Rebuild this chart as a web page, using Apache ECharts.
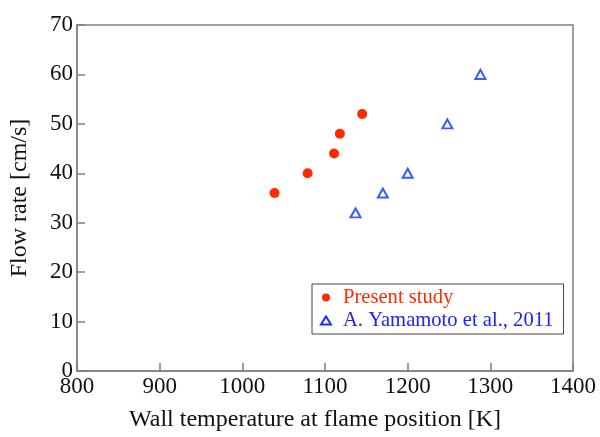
<!DOCTYPE html>
<html><head><meta charset="utf-8">
<script src="https://cdn.jsdelivr.net/npm/echarts@6/dist/echarts.min.js"></script>
<style>html,body{margin:0;padding:0;background:#fff}#c{width:600px;height:437px}</style>
</head><body><div id="c"></div>
<script>
const presentX = [1039, 1079, 1111, 1118, 1145];
const presentY = [36, 40, 44, 48, 52];
const yamaX = [1137, 1170, 1200, 1248, 1288];
const yamaY = [32, 36, 40, 50, 60];
const xTicks = [800, 900, 1000, 1100, 1200, 1300, 1400];
const yTicks = [0, 10, 20, 30, 40, 50, 60, 70];
const seriesNames = ['Present study', 'A. Yamamoto et al., 2011'];

const font = 'Liberation Serif';
const red = '#ff2a00';
const blue = '#3a5cff';
const blueText = '#2121ff';
const chart = echarts.init(document.getElementById('c'), null, {renderer: 'canvas'});
chart.setOption({
  animation: false,
  grid: {left: 76, right: 27, top: 25, bottom: 64, show: true, borderColor: '#808080', borderWidth: 1.5, backgroundColor: 'transparent'},
  xAxis: {
    type: 'value', min: xTicks[0], max: xTicks[xTicks.length-1], interval: 100,
    name: 'Wall temperature at flame position [K]', nameLocation: 'middle', nameGap: 37,
    nameTextStyle: {fontFamily: font, fontSize: 24, color: '#111', padding: [0, 20, 0, 0]},
    axisLine: {lineStyle: {color: '#808080', width: 1.5}},
    axisTick: {inside: true, length: 8, lineStyle: {color: '#808080', width: 1.5}},
    axisLabel: {fontFamily: font, fontSize: 23, color: '#111', margin: 4, formatter: v => String(v)},
    splitLine: {show: false}
  },
  yAxis: {
    type: 'value', min: yTicks[0], max: yTicks[yTicks.length-1], interval: 10,
    name: 'Flow rate [cm/s]', nameLocation: 'middle', nameGap: 45,
    nameTextStyle: {fontFamily: font, fontSize: 24, color: '#111'},
    axisLine: {lineStyle: {color: '#808080', width: 1.5}},
    axisTick: {inside: true, length: 8, lineStyle: {color: '#808080', width: 1.5}},
    axisLabel: {fontFamily: font, fontSize: 23, color: '#111', margin: 4, formatter: v => String(v)},
    splitLine: {show: false}
  },
  legend: {
    left: 312, top: 284, orient: 'vertical',
    borderColor: '#444', borderWidth: 1, padding: [3, 10, 3, 8],
    itemGap: 2, itemWidth: 10, itemHeight: 8,
    textStyle: {fontFamily: font, fontSize: 20.6, lineHeight: 21, padding: [0, 0, 0, 7]},
    data: [
      {name: seriesNames[0], icon: 'circle', itemStyle: {color: red, opacity: 1}, textStyle: {color: red}},
      {name: seriesNames[1], icon: 'triangle', itemStyle: {color: '#fff', borderColor: '#1a2cff', borderWidth: 2}, textStyle: {color: blueText}}
    ]
  },
  series: [
    {name: seriesNames[0], type: 'scatter', symbol: 'circle', symbolSize: 10,
     itemStyle: {color: red, opacity: 1},
     data: presentX.map((x, i) => [x, presentY[i]])},
    {name: seriesNames[1], type: 'scatter', symbol: 'triangle', symbolSize: [10, 9],
     itemStyle: {color: '#fff', borderColor: blue, borderWidth: 2, opacity: 1},
     data: yamaX.map((x, i) => [x, yamaY[i]])}
  ]
});
</script></body></html>
